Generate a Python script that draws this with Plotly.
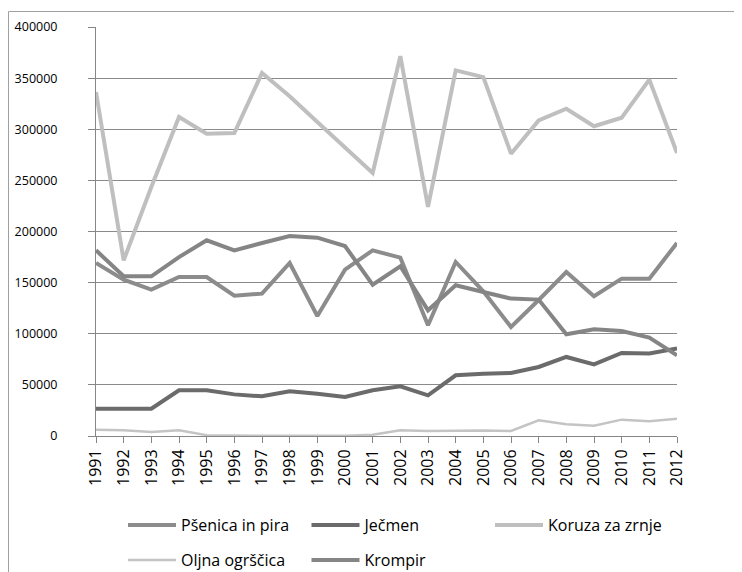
import plotly.graph_objects as go

years = list(range(1991, 2013))

psenica = [169200, 152900, 143100, 155500, 155500, 137200, 139200, 169200, 117400, 162700, 181600,
           174400, 108300, 170200, 141500, 106600, 133000, 160400, 136700, 153900, 153900, 188800]
jecmen = [26700, 26700, 26700, 44700, 44700, 40700, 38800, 43700, 41400, 38100, 44700,
          48600, 39800, 59400, 61000, 61600, 67500, 77300, 70100, 81200, 80600, 85500]
koruza = [336400, 171800, 243500, 312000, 295700, 296300, 355000, 332200, 307100, 282000, 257200,
          371500, 224000, 357600, 351000, 276100, 308700, 320100, 302900, 311300, 348500, 276800]
oljna = [6200, 5600, 3900, 5600, 800, 300, 200, 200, 300, 300, 1200,
         5600, 4900, 5200, 5500, 4900, 15400, 11500, 10100, 16000, 14400, 17000]
krompir = [181600, 156200, 156200, 175000, 191400, 181600, 188700, 195600, 194000, 185800, 148000,
           166000, 122900, 147400, 140800, 134400, 133400, 99500, 104400, 102700, 96200, 78900]

yticks = [0, 50000, 100000, 150000, 200000, 250000, 300000, 350000, 400000]

series = [
    ("Pšenica in pira", psenica, "#8c8c8c", 4, "legend"),
    ("Ječmen", jecmen, "#6b6b6b", 4, "legend"),
    ("Koruza za zrnje", koruza, "#bfbfbf", 4, "legend"),
    ("Oljna ogrščica", oljna, "#c4c4c4", 2.5, "legend2"),
    ("Krompir", krompir, "#858585", 4, "legend2"),
]

# page offset of the plot div (default body margin)
OFF = 8
W, H = 742 - OFF, 572 - OFF
# plot area in page (reference) pixels
PX0, PX1, PY0, PY1 = 96, 677, 27, 436
L, R = PX0 - OFF, W - (PX1 - OFF)
T, B = PY0 - OFF, H - (PY1 - OFF)
pw, ph = W - L - R, H - T - B

fig = go.Figure()
for name, vals, color, width, lg in series:
    fig.add_trace(go.Scatter(x=years, y=vals, name=name, mode="lines",
                             line=dict(color=color, width=width), legend=lg))

font = "Open Sans, Liberation Sans, Arial, sans-serif"

def paper_x(px):
    return (px - OFF - L) / pw

def paper_y(py):
    return (H - B - (py - OFF)) / ph

def cont_x(px):
    return (px - OFF) / W

def cont_y(py):
    return 1 - (py - OFF) / H

legend_common = dict(orientation="h", entrywidth=120.5, entrywidthmode="pixels",
                     font=dict(family=font, size=16, color="#000000"),
                     bgcolor="rgba(0,0,0,0)", itemwidth=48,
                     xref="container", yref="container",
                     xanchor="left", yanchor="middle", traceorder="normal")

fig.update_layout(
    width=W, height=H,
    margin=dict(l=L, r=R, t=T, b=B, autoexpand=False),
    paper_bgcolor="white", plot_bgcolor="white",
    showlegend=True,
    legend=dict(x=cont_x(123), y=cont_y(525), **legend_common),
    legend2=dict(x=cont_x(123), y=cont_y(560), **legend_common),
    xaxis=dict(range=[1991, 2012], tickmode="array", tickvals=years,
               ticktext=[str(y) for y in years], tickangle=-90,
               ticks="outside", ticklen=6, tickcolor="#868686",
               showline=True, linecolor="#868686", linewidth=1,
               showgrid=False, zeroline=False, automargin=False,
               tickfont=dict(family=font, size=16, color="#000000")),
    yaxis=dict(range=[0, 400000], tickmode="array", tickvals=yticks,
               ticktext=[str(v) for v in yticks],
               ticks="outside", ticklen=7, tickcolor="#868686",
               showline=True, linecolor="#868686", linewidth=1,
               showgrid=True, gridcolor="#8a8a8a", gridwidth=1,
               zeroline=False, ticklabelstandoff=28, automargin=False,
               tickfont=dict(family=font, size=12.5, color="#000000")),
    shapes=[dict(type="rect", xref="paper", yref="paper",
                 x0=paper_x(OFF + 0.5), x1=paper_x(800), y0=paper_y(620), y1=paper_y(11.5),
                 line=dict(color="#a0a0a0", width=1), fillcolor="rgba(0,0,0,0)",
                 layer="below")],
)

fig.write_html("out.html")
